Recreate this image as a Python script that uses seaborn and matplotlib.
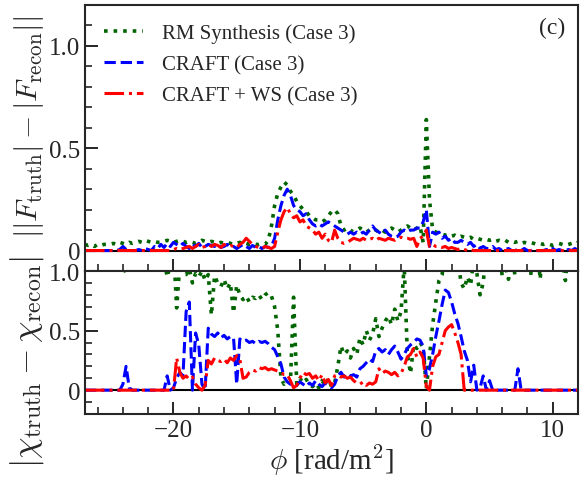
import matplotlib
matplotlib.use("Agg")
import matplotlib.pyplot as plt
import numpy as np
import pandas as pd
import seaborn as sns
from matplotlib.ticker import MultipleLocator

# Faraday depth grid, 0.25 rad/m^2 steps from -27 to 12
phi = np.linspace(-27, 12, 157)

# top panel: ||F_truth| - |F_recon||   (rows of 8 = 2 rad/m^2 each)
amp_rmsynth = [
    0.03, 0.025, 0.03, 0.02, 0.03, 0.025, 0.03, 0.03,        # -27
    0.03, 0.035, 0.03, 0.04, 0.035, 0.03, 0.04, 0.035,       # -25
    0.04, 0.045, 0.04, 0.05, 0.045, 0.04, 0.045, 0.04,       # -23
    0.04, 0.045, 0.05, 0.045, 0.04, 0.045, 0.05, 0.045,      # -21
    0.04, 0.045, 0.04, 0.035, 0.04, 0.05, 0.045, 0.04,       # -19
    0.045, 0.04, 0.035, 0.04, 0.035, 0.04, 0.035, 0.03,      # -17
    0.035, 0.04, 0.03, 0.035, 0.03, 0.035, 0.03, 0.03,       # -15
    0.035, 0.03, 0.05, 0.12, 0.22, 0.28, 0.31, 0.335,        # -13
    0.32, 0.29, 0.27, 0.24, 0.22, 0.2, 0.19, 0.17,           # -11
    0.16, 0.15, 0.15, 0.14, 0.15, 0.17, 0.19, 0.2,           # -9
    0.18, 0.12, 0.1, 0.11, 0.1, 0.09, 0.1, 0.11,             # -7
    0.1, 0.09, 0.1, 0.11, 0.1, 0.09, 0.1, 0.09,              # -5
    0.1, 0.11, 0.1, 0.09, 0.1, 0.11, 0.12, 0.11,             # -3
    0.1, 0.11, 0.12, 0.04, 0.64, 0.25, 0.1, 0.09,            # -1
    0.085, 0.08, 0.075, 0.08, 0.07, 0.075, 0.065, 0.07,      # 1
    0.065, 0.06, 0.065, 0.055, 0.06, 0.055, 0.05, 0.055,     # 3
    0.05, 0.055, 0.045, 0.05, 0.045, 0.05, 0.04, 0.045,      # 5
    0.04, 0.045, 0.035, 0.04, 0.035, 0.04, 0.035, 0.03,      # 7
    0.035, 0.03, 0.035, 0.03, 0.025, 0.03, 0.035, 0.03,      # 9
    0.025, 0.03, 0.035, 0.03, 0.04,                          # 11
]
amp_craft = [
    0, 0, 0, 0, 0, 0, 0, 0,
    0, 0, 0, 0.005, 0.02, 0.005, 0, 0,
    0, 0.005, 0, 0.01, 0.005, 0, 0.02, 0.01,
    0.03, 0.015, 0.035, 0.02, 0.04, 0.03, 0.02, 0.035,
    0.02, 0.01, 0.03, 0.02, 0.035, 0.015, 0.02, 0.03,
    0.025, 0.02, 0.03, 0.015, 0.02, 0.03, 0.015, 0.02,
    0.01, 0.02, 0.03, 0.02, 0.01, 0.025, 0.015, 0.02,
    0.01, 0.02, 0.015, 0.02, 0.06, 0.15, 0.22, 0.27,
    0.3, 0.27, 0.22, 0.2, 0.19, 0.17, 0.18, 0.15,
    0.13, 0.12, 0.13, 0.12, 0.13, 0.14, 0.13, 0.12,
    0.11, 0.1, 0.09, 0.08, 0.09, 0.08, 0.09, 0.08,
    0.09, 0.08, 0.1, 0.12, 0.1, 0.09, 0.08, 0.1,
    0.08, 0.07, 0.065, 0.07, 0.09, 0.1, 0.09, 0.1,
    0.1, 0.11, 0.11, 0.14, 0.2, 0.02, 0.09, 0.08,
    0.09, 0.06, 0.07, 0.05, 0.06, 0.04, 0.04, 0.05,
    0.04, 0.03, 0.04, 0.02, 0.03, 0.01, 0.02, 0.01,
    0.01, 0.02, 0.005, 0.01, 0, 0.005, 0.01, 0,
    0, 0.005, 0, 0.01, 0, 0, 0.005, 0,
    0, 0, 0.005, 0, 0.01, 0, 0.005, 0,
    0, 0.005, 0, 0.01, 0,
]
amp_craft_ws = [
    0, 0, 0, 0, 0, 0, 0, 0,
    0, 0, 0, 0, 0, 0, 0, 0,
    0, 0, 0, 0, 0, 0, 0, 0,
    0, 0, 0, 0, 0.005, 0.01, 0.005, 0.01,
    0.015, 0.02, 0.01, 0.02, 0.03, 0.015, 0.02, 0.03,
    0.02, 0.03, 0.025, 0.015, 0.03, 0.02, 0.025, 0.02,
    0.015, 0.03, 0.04, 0.06, 0.045, 0.03, 0.02, 0.015,
    0.01, 0.02, 0.015, 0.01, 0.02, 0.09, 0.15, 0.19,
    0.21, 0.18, 0.16, 0.17, 0.14, 0.15, 0.12, 0.11,
    0.1, 0.08, 0.09, 0.06, 0.08, 0.05, 0.04, 0.1,
    0.06, 0.04, 0.035, 0.04, 0.05, 0.06, 0.055, 0.05,
    0.06, 0.05, 0.055, 0.06, 0.05, 0.06, 0.055, 0.05,
    0.06, 0.055, 0.05, 0.06, 0.065, 0.06, 0.06, 0.055,
    0.06, 0.02, 0.06, 0.07, 0.1, 0.02, 0.03, 0.02,
    0.02, 0.015, 0.02, 0.01, 0.015, 0.01, 0.005, 0.01,
    0.005, 0, 0.005, 0, 0, 0, 0, 0,
    0, 0, 0, 0, 0, 0, 0, 0,
    0, 0, 0, 0, 0, 0, 0, 0,
    0, 0, 0, 0, 0, 0, 0, 0,
    0, 0, 0, 0, 0,
]

# bottom panel: |chi_truth - chi_recon|  (values above 1 fall outside the panel)
chi_rmsynth = [
    1.3, 1.25, 1.35, 1.2, 1.3, 1.25, 1.3, 1.2,
    1.25, 1.3, 1.2, 1.15, 1.05, 0.98, 1.1, 1.2,
    1.2, 1.3, 1.25, 1.3, 1.2, 1.25, 1.3, 1.2,
    1.15, 1.1, 0.95, 1.05, 1.2, 0.69, 1.05, 0.97,
    0.97, 1.02, 0.9, 0.98, 0.95, 1.0, 0.92, 0.97,
    0.63, 0.96, 0.9, 0.87, 0.93, 0.85, 0.9, 0.65,
    0.88, 0.8, 0.76, 0.79, 0.74, 0.78, 0.77, 0.8,
    0.76, 0.8, 0.82, 0.79, 0.7, 0.5, 0.1, 0.05,
    0.08, 0.06, 0.78, 0.05, 0.1, 0.06, 0.09, 0.05,
    0.03, 0.06, 0.02, 0.08, 0.04, 0.1, 0.03, 0.06,
    0.2, 0.37, 0.3, 0.33, 0.27, 0.35, 0.3, 0.44,
    0.38, 0.5, 0.42, 0.47, 0.6, 0.45, 0.52, 0.58,
    0.62, 0.55, 0.68, 0.58, 0.66, 1.05, 0.3, 0.14,
    0.38, 0.35, 0.4, 0.36, 0.01, 0.28, 0.55, 0.74,
    0.92, 0.97, 1.2, 1.3, 1.15, 1.25, 1.1, 0.9,
    0.85, 0.95, 0.88, 1.1, 0.98, 0.8, 0.9, 1.2,
    1.3, 1.1, 0.98, 1.2, 0.96, 1.05, 0.93, 1.2,
    0.97, 1.1, 1.2, 1.3, 1.15, 0.96, 1.2, 1.3,
    0.93, 1.2, 1.3, 1.25, 1.15, 1.3, 1.2, 1.1,
    0.92, 1.2, 1.3, 1.25, 1.2,
]
chi_craft = [
    0, 0, 0, 0, 0, 0, 0, 0,
    0, 0, 0, 0, 0.05, 0.2, 0.02, 0,
    0, 0, 0, 0, 0, 0, 0, 0,
    0, 0, 0.12, 0, 0.02, 0.1, 0.15, 0.12,
    0.66, 0.74, 0.0, 0.48, 0.38, 0.05, 0.0, 0.52,
    0.47, 0.45, 0.48, 0.44, 0.46, 0.43, 0.45, 0.44,
    0.05, 0.43, 0.41, 0.42, 0.4, 0.41, 0.39, 0.41,
    0.4, 0.41, 0.39, 0.36, 0.34, 0.28, 0.22, 0.11,
    0.07, 0.05, 0.06, 0.04, 0.07, 0.05, 0.03, 0.06,
    0.04, 0.08, 0.05, 0.03, 0.06, 0.04, 0.02, 0.05,
    0.12, 0.15, 0.11, 0.14, 0.12, 0.13, 0.11, 0.18,
    0.2, 0.23, 0.26, 0.24, 0.33, 0.35, 0.32, 0.34,
    0.3, 0.34, 0.37, 0.32, 0.26, 0.3, 0.35, 0.38,
    0.4, 0.43, 0.42, 0.37, 0.12, 0.18, 0.3, 0.45,
    0.58, 0.72, 0.84, 0.82, 0.74, 0.64, 0.56, 0.45,
    0.33, 0.25, 0.07, 0.21, 0.0, 0.02, 0.12, 0.0,
    0.08, 0, 0, 0, 0, 0, 0, 0,
    0, 0.18, 0, 0, 0, 0, 0, 0,
    0, 0, 0, 0, 0, 0, 0, 0,
    0, 0, 0, 0, 0,
]
chi_craft_ws = [
    0, 0, 0, 0, 0, 0, 0, 0,
    0, 0, 0, 0, 0, 0, 0, 0,
    0, 0, 0, 0, 0, 0, 0, 0,
    0, 0, 0, 0, 0, 0.27, 0.15, 0.1,
    0.12, 0.09, 0.11, 0.05, 0.02, 0.0, 0.04, 0.25,
    0.22, 0.27, 0.25, 0.24, 0.26, 0.23, 0.27, 0.25,
    0.29, 0.26, 0.1, 0.11, 0.15, 0.17, 0.16, 0.19,
    0.18, 0.19, 0.17, 0.18, 0.17, 0.16, 0.15, 0.13,
    0.13, 0.08, 0.02, 0.04, 0.1, 0.15, 0.13, 0.14,
    0.1, 0.12, 0.08, 0.13, 0.06, 0.09, 0.04, 0.12,
    0.13, 0.11, 0.12, 0.1, 0.11, 0.08, 0.06, 0.05,
    0.07, 0.04, 0.06, 0.05, 0.07, 0.18, 0.14, 0.16,
    0.15, 0.13, 0.15, 0.12, 0.14, 0.2, 0.28, 0.3,
    0.35, 0.28, 0.32, 0.27, 0.03, 0.0, 0.2, 0.28,
    0.3, 0.4, 0.5, 0.53, 0.55, 0.48, 0.4, 0.3,
    0, 0, 0, 0, 0, 0, 0, 0,
    0, 0, 0, 0, 0, 0, 0, 0,
    0, 0, 0, 0, 0, 0, 0, 0,
    0, 0, 0, 0, 0, 0, 0, 0,
    0, 0, 0, 0, 0,
]

labels = ["RM Synthesis (Case 3)", "CRAFT (Case 3)", "CRAFT + WS (Case 3)"]

sns.set_style("ticks")
plt.rcParams["font.family"] = ["Liberation Serif", "DejaVu Serif"]
plt.rcParams["mathtext.fontset"] = "cm"
plt.rcParams["axes.linewidth"] = 1.5

fig = plt.figure(figsize=(5.87, 4.81), dpi=100)
ax1 = fig.add_axes([0.1448, 0.4345, 0.8399, 0.553])
ax2 = fig.add_axes([0.1448, 0.1372, 0.8399, 0.2973])

styles = [("darkgreen", ":", 2.6), ("blue", "--", 2.2), ("red", "-.", 2.2)]

top = [amp_rmsynth, amp_craft, amp_craft_ws]
bot = [chi_rmsynth, chi_craft, chi_craft_ws]
for vals, lab, (c, ls, lw) in zip(top, labels, styles):
    sns.lineplot(x=phi, y=vals, ax=ax1, color=c, linestyle=ls, lw=lw, label=lab)
for vals, (c, ls, lw) in zip(bot, styles):
    sns.lineplot(x=phi, y=vals, ax=ax2, color=c, linestyle=ls, lw=lw)

for ax in (ax1, ax2):
    ax.axhline(0, color="k", lw=1.5, zorder=1)
    ax.set_xlim(-27, 12)
    ax.xaxis.set_major_locator(MultipleLocator(10))
    ax.xaxis.set_minor_locator(MultipleLocator(2))
    ax.yaxis.set_minor_locator(MultipleLocator(0.1))
    ax.tick_params(which="major", direction="in", length=9, width=1.4, labelsize=18)
    ax.tick_params(which="minor", direction="in", length=5, width=1.2)

ax1.set_ylim(-0.1, 1.2)
ax1.set_yticks([0, 0.5, 1.0], ["0", "0.5", "1.0"])
ax1.tick_params(labelbottom=False)
ax2.set_ylim(-0.2, 1.0)
ax2.set_yticks([0, 0.5, 1.0], ["0", "0.5", "1.0"])

ax1.set_ylabel(r"$||F_\mathrm{truth}| - |F_\mathrm{recon}||$", fontsize=20)
ax2.set_ylabel(r"$|\chi_\mathrm{truth} - \chi_\mathrm{recon}|$", fontsize=24)
ax1.yaxis.set_label_coords(-0.08, 0.545)
ax2.yaxis.set_label_coords(-0.08, 0.37)
ax2.set_xlabel(r"$\phi$ [rad/m$^2$]", fontsize=21, labelpad=1)

# size the two long y labels to the length they have in the figure
fig.canvas.draw()
rend = fig.canvas.get_renderer()
for lab, target in ((ax1.yaxis.label, 222), (ax2.yaxis.label, 212)):
    h = lab.get_window_extent(rend).height
    lab.set_fontsize(lab.get_fontsize() * target / h)

ax1.legend(loc="upper left", frameon=False, fontsize=15, handlelength=1.9,
           handletextpad=0.9, labelspacing=0.55, borderaxespad=0.5)
ax1.text(0.974, 0.914, "(c)", transform=ax1.transAxes, fontsize=17,
         ha="right", va="center")

fig.savefig("out.png", dpi=100)
